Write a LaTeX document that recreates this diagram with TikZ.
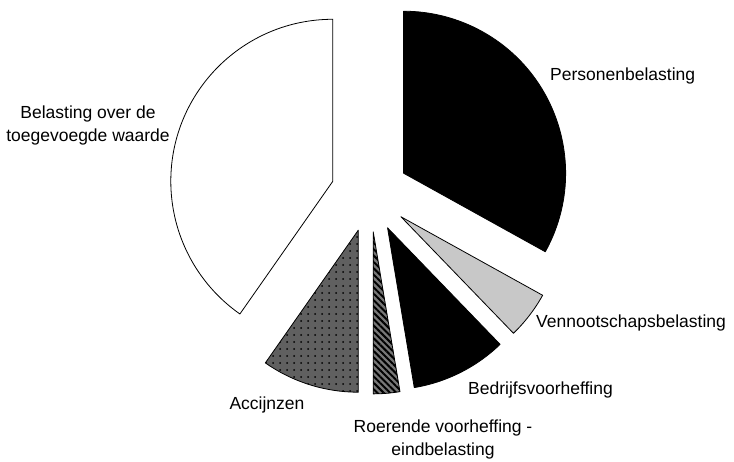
\documentclass[tikz,border=0pt]{standalone}
\usepackage{fontspec}
\setmainfont{Liberation Sans}
\usetikzlibrary{patterns.meta}

\definecolor{darkgrey}{RGB}{96,96,96}
\definecolor{midgrey}{RGB}{120,120,120}
\definecolor{lightgrey}{RGB}{200,200,200}

\tikzset{
  label/.style={inner sep=0pt,font=\fontsize{17.5}{23}\selectfont},
  piepart/.style={line width=0.8pt,line join=round}
}

% one exploded slice: style, start angle, end angle
\newcommand{\pieslice}[3]{%
  \draw[piepart,#1,shift={(370,268)}] ({(#2+#3)/2}:39) -- ++(#2:162)
    arc[start angle=#2,end angle=#3,radius=162] -- cycle;
}

\begin{document}
\begin{tikzpicture}[x=1pt,y=1pt]
  \useasboundingbox (0,0) rectangle (734,461);
  \pieslice{fill=white}{90}{235}
  \pieslice{preaction={fill=darkgrey},pattern={Dots[distance=7pt,radius=1pt]},pattern color=black}{235}{270}
  \pieslice{preaction={fill=midgrey},pattern={Lines[angle=-45,distance=4.5pt,line width=2pt]},pattern color=black}{270}{279.5}
  \pieslice{fill=black}{279.5}{314}
  \pieslice{fill=lightgrey}{314}{331}
  \pieslice{fill=black}{331}{450}

  \node[label,anchor=west] (pb) at (550,385) {Personenbelasting};
  \node[label,align=center] (btw) at (88,336) {Belasting over de\\toegevoegde waarde};
  \node[label,anchor=west] (vb) at (536,138) {Vennootschapsbelasting};
  \node[label,anchor=west] (bv) at (468,71) {Bedrijfsvoorheffing};
  \node[label,align=center] (rv) at (443,22) {Roerende voorheffing -\\eindbelasting};
  \node[label] (acc) at (267,56) {Accijnzen};
\end{tikzpicture}
\end{document}
